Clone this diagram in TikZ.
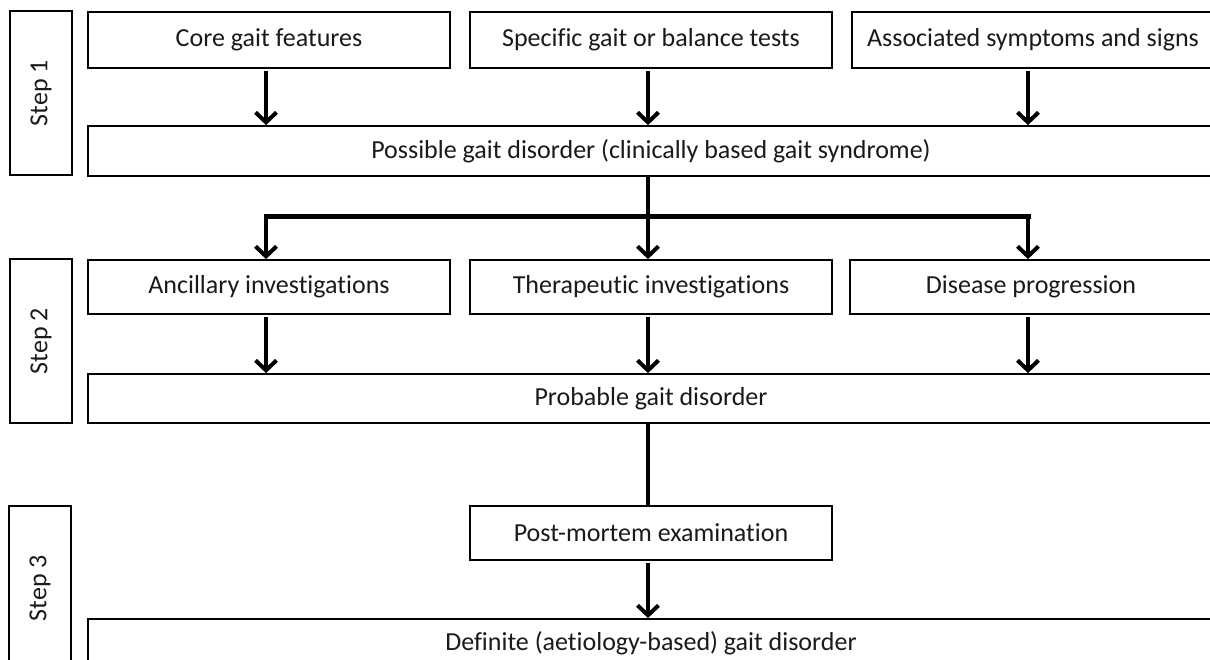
\documentclass[tikz,border=0pt]{standalone}
\usepackage{fontspec}
\setmainfont{Carlito}[Ligatures=NoCommon]
\usetikzlibrary{arrows.meta}
\definecolor{ink}{HTML}{1A1A1A}
\begin{document}
\begin{tikzpicture}[x=1pt,y=-1pt,
  box/.style={draw=black,line width=1.8pt,rectangle,inner sep=0pt,text=ink,
    font=\fontsize{26}{30}\selectfont},
  stepbox/.style={box,minimum width=62pt,minimum height=164pt},
  wide/.style={box,minimum width=1126pt},
  narrow/.style={box,minimum width=362pt},
  arr/.style={line width=4pt,-{Straight Barb[length=10pt,width=21pt,line width=4pt]},shorten <=2pt},
  trunk/.style={line width=4.5pt},
  bar/.style={line width=5pt,line cap=rect}]
\useasboundingbox (0,0) rectangle (1210,660);
\clip (0,0) rectangle (1210,660);
\fill[white] (0,0) rectangle (1210,660);
% step labels
\node[stepbox] (s1) at (41,93) {\rotatebox{90}{Step 1}};
\node[stepbox] (s2) at (41,341) {\rotatebox{90}{Step 2}};
\node[stepbox] (s3) at (40,588) {\rotatebox{90}{Step 3}};
% step 1
\node[narrow,minimum height=56pt] (a1) at (269,40) {Core gait features};
\node[narrow,minimum height=56pt] (a2) at (651,40) {Specific gait or balance tests};
\node[narrow,minimum height=56pt] (a3) at (1033,40) {Associated symptoms and signs};
\node[wide,minimum height=50pt] (p) at (651,151) {Possible gait disorder (clinically based gait syndrome)};
% step 2
\node[narrow,minimum height=54pt] (b1) at (269,287) {Ancillary investigations};
\node[narrow,minimum height=54pt] (b2) at (651,287) {Therapeutic investigations};
\node[narrow,minimum height=54pt] (b3) at (1031,287) {Disease progression};
\node[wide,minimum height=49pt] (q) at (651,398.5) {Probable gait disorder};
% step 3
\node[narrow,minimum height=54pt] (pm) at (651,533) {Post-mortem examination};
\node[wide,minimum height=49pt] (d) at (651,643.5) {Definite (aetiology-based) gait disorder};
% connectors step 1
\draw[arr] ([xshift=-3pt]a1.south) -- ([xshift=-3pt]a1.south |- p.north);
\draw[arr] ([xshift=-3pt]a2.south) -- ([xshift=-3pt]a2.south |- p.north);
\draw[arr] ([xshift=-5pt]a3.south) -- ([xshift=-5pt]a3.south |- p.north);
% split
\coordinate (split) at (648,217);
\draw[bar] ([xshift=-3pt]b1.north |- split) -- ([xshift=-3pt]b3.north |- split);
\draw[arr,shorten <=0pt] ([xshift=-3pt]p.south) -- ([xshift=-3pt]b2.north);
\draw[arr,shorten <=0pt] ([xshift=-3pt]b1.north |- split) -- ([xshift=-3pt]b1.north);
\draw[arr,shorten <=0pt] ([xshift=-3pt]b3.north |- split) -- ([xshift=-3pt]b3.north);
% connectors step 2
\draw[arr] ([xshift=-3pt]b1.south) -- ([xshift=-3pt]b1.south |- q.north);
\draw[arr] ([xshift=-3pt]b2.south) -- ([xshift=-3pt]b2.south |- q.north);
\draw[arr] ([xshift=-3pt]b3.south) -- ([xshift=-3pt]b3.south |- q.north);
% step 3
\draw[trunk] ([xshift=-3pt]q.south) -- ([xshift=-3pt]pm.north);
\draw[arr] ([xshift=-3pt]pm.south) -- ([xshift=-3pt]d.north);
\end{tikzpicture}
\end{document}
